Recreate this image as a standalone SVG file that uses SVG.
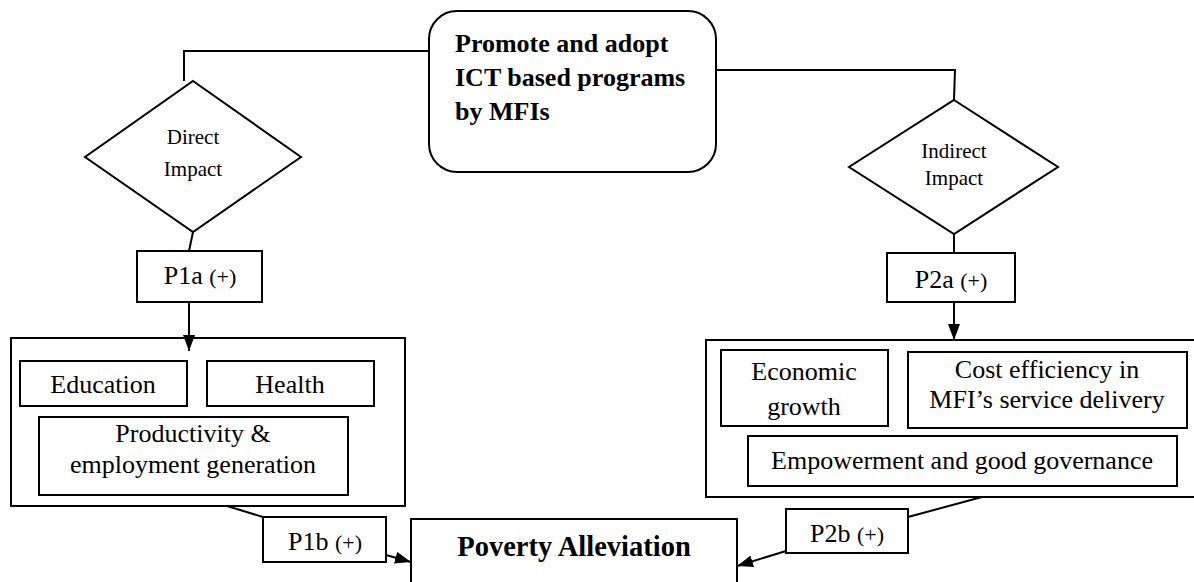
<svg xmlns="http://www.w3.org/2000/svg" width="1194" height="582" viewBox="0 0 1194 582">
<defs>
<marker id="arr" markerWidth="16" markerHeight="12" refX="16" refY="6" orient="auto" markerUnits="userSpaceOnUse">
<path d="M0,0 L16,6 L0,12 Z" fill="#000"/>
</marker>
<style>
.s{fill:#fff;stroke:#000;stroke-width:2}
.c{fill:none;stroke:#000;stroke-width:2}
text{fill:#000}
.t{font-size:26px;text-anchor:middle}
.d{font-size:21px;text-anchor:middle}
.b{font-size:26px;font-weight:bold}
.big{font-size:28.5px;font-weight:bold;text-anchor:middle}
.sm{font-size:22px}
</style>
</defs>
<rect width="1194" height="582" fill="#fff"/>
<g font-family="Liberation Serif, Times New Roman, serif">
<g id="promote">
<rect class="s" x="429" y="11" width="287" height="161" rx="28" ry="28"/>
<text class="b" x="455" y="52">Promote and adopt</text>
<text class="b" x="455" y="86">ICT based programs</text>
<text class="b" x="455" y="120">by MFIs</text>
</g>
<g id="direct">
<polygon class="s" points="193,81 301,157 193,232 85,157"/>
<text class="d" x="193" y="144">Direct</text>
<text class="d" x="193" y="176">Impact</text>
</g>
<g id="indirect">
<polygon class="s" points="954,100 1058,167 954,234 849,167"/>
<text class="d" x="954" y="158">Indirect</text>
<text class="d" x="954" y="185">Impact</text>
</g>
<g id="p1a">
<rect class="s" x="137" y="251" width="125" height="51"/>
<text class="t" x="200" y="284">P1a <tspan class="sm">(+)</tspan></text>
</g>
<g id="p2a">
<rect class="s" x="887" y="253" width="128" height="49"/>
<text class="t" x="951" y="288">P2a <tspan class="sm">(+)</tspan></text>
</g>
<g id="direct-group">
<rect class="s" x="11" y="338" width="394" height="168"/>
<rect class="s" x="20" y="361" width="167" height="45"/>
<text class="t" x="103" y="393">Education</text>
<rect class="s" x="207" y="361" width="167" height="45"/>
<text class="t" x="290" y="393">Health</text>
<rect class="s" x="39" y="417" width="309" height="78"/>
<text class="t" x="193" y="442">Productivity &amp;</text>
<text class="t" x="193" y="473">employment generation</text>
</g>
<g id="indirect-group">
<rect class="s" x="706" y="340" width="500" height="157"/>
<rect class="s" x="721" y="350" width="167" height="76"/>
<text class="t" x="804" y="380">Economic</text>
<text class="t" x="804" y="415">growth</text>
<rect class="s" x="908" y="352" width="279" height="76"/>
<text class="t" x="1047" y="378">Cost efficiency in</text>
<text class="t" x="1047" y="408">MFI’s service delivery</text>
<rect class="s" x="748" y="436" width="429" height="50"/>
<text class="t" x="962" y="469">Empowerment and good governance</text>
</g>
<g id="p1b">
<rect class="s" x="263" y="517" width="123" height="45"/>
<text class="t" x="325" y="550">P1b <tspan class="sm">(+)</tspan></text>
</g>
<g id="p2b">
<rect class="s" x="786" y="509" width="122" height="44"/>
<text class="t" x="847" y="542">P2b <tspan class="sm">(+)</tspan></text>
</g>
<g id="poverty">
<rect class="s" x="411" y="519" width="326" height="80"/>
<text class="big" x="574" y="556">Poverty Alleviation</text>
</g>
</g>
<g id="connectors">
<polyline class="c" points="430,51 184,51 184,81"/>
<polyline class="c" points="716,70 955,70 954,100"/>
<line class="c" x1="193" y1="232" x2="189" y2="251"/>
<line class="c" x1="954" y1="234" x2="954" y2="253"/>
<line class="c" x1="189" y1="302" x2="189" y2="351" marker-end="url(#arr)"/>
<line class="c" x1="954" y1="302" x2="954" y2="340" marker-end="url(#arr)"/>
<line class="c" x1="227" y1="506" x2="263" y2="517"/>
<line class="c" x1="386" y1="555" x2="411" y2="562" marker-end="url(#arr)"/>
<line class="c" x1="982" y1="497" x2="908" y2="517"/>
<line class="c" x1="786" y1="551" x2="737" y2="566" marker-end="url(#arr)"/>
</g>
</svg>
